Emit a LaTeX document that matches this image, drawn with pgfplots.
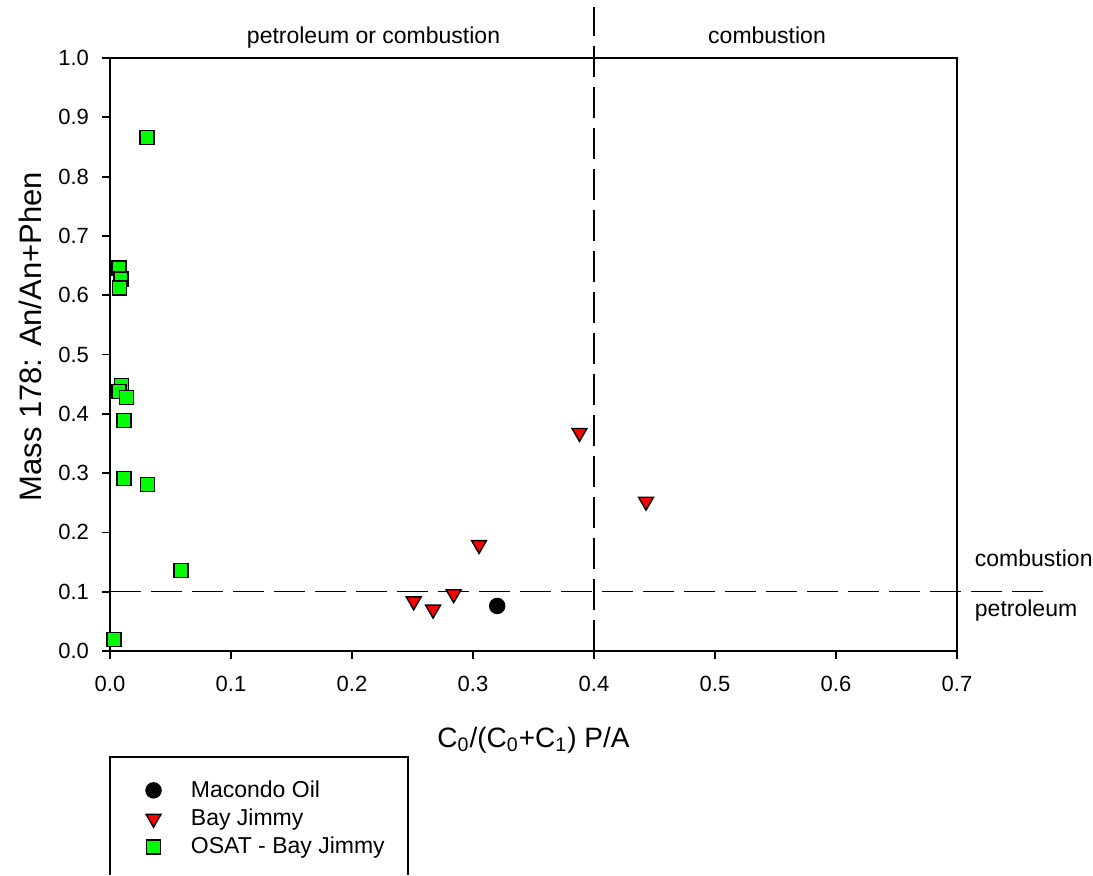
\documentclass[border=0pt]{standalone}
\usepackage{fontspec}
\setmainfont{Liberation Sans}
\usepackage{pgfplots}
\pgfplotsset{compat=1.18}
\definecolor{osatgreen}{RGB}{0,255,0}
\definecolor{bjred}{RGB}{255,0,0}

\begin{document}
\begin{tikzpicture}
\useasboundingbox (-55pt,-112pt) rectangle (491.5pt,325.5pt);
\begin{axis}[
  at={(0pt,0pt)}, anchor=south west,
  width=423.5pt, height=296.5pt, scale only axis,
  xmin=0, xmax=0.7, ymin=0, ymax=1.0,
  xtick={0,0.1,0.2,0.3,0.4,0.5,0.6,0.7},
  ytick={0,0.1,0.2,0.3,0.4,0.5,0.6,0.7,0.8,0.9,1.0},
  /pgf/number format/.cd, fixed, fixed zerofill, precision=1, assume math mode=true,
  /pgfplots/.cd,
  tick align=outside, xtick pos=bottom, ytick pos=left,
  major tick length=4pt,
  axis line style={line width=0.9pt},
  tick style={line width=0.9pt, black},
  ticklabel style={font=\fontsize{11}{13}\selectfont},
  xticklabel style={yshift=-5pt},
  yticklabel style={xshift=-3pt},
  clip=false,
  xlabel={C\textsubscript{0}/(C\textsubscript{0}+C\textsubscript{1}) P/A},
  ylabel={Mass 178: An/An+Phen},
  xlabel style={font=\fontsize{14}{16}\selectfont,
    at={(axis description cs:0.5,0)}, anchor=base, yshift=-48pt},
  ylabel style={font=\fontsize{15.5}{18}\selectfont,
    at={(axis description cs:-0.0945,0.53)}, anchor=center},
  legend cell align=left,
  legend image code/.code={\draw[#1] plot coordinates {(0pt,0pt)}; \path (-4pt,0pt) (16.5pt,0pt);},
  legend style={draw=none, fill=none, inner sep=0pt,
    at={(axis description cs:0.041,-0.211)}, anchor=north west,
    font=\fontsize{11.5}{14}\selectfont, row sep=0.3pt},
]
\addplot[only marks, mark=*, mark size=3.9pt, mark options={draw=black, fill=black}]
  coordinates {(0.320,0.076)};
\addlegendentry{Macondo Oil}
\addplot[only marks, mark=triangle*, mark size=4.3pt,
  mark options={rotate=180, draw=black, fill=bjred, line width=0.7pt}]
  coordinates {(0.251,0.084) (0.267,0.070) (0.284,0.096) (0.305,0.179) (0.388,0.368) (0.443,0.252)};
\addlegendentry{Bay Jimmy}
\addplot[only marks, mark=square*, mark size=3.5pt,
  mark options={draw=black, fill=osatgreen, line width=0.7pt}]
  coordinates {(0.0305,0.866) (0.0076,0.646) (0.0090,0.627) (0.0081,0.612)
               (0.0095,0.448) (0.0074,0.438) (0.0136,0.427) (0.0117,0.389)
               (0.0117,0.291) (0.0310,0.281) (0.0587,0.136) (0.0032,0.019)};
\addlegendentry{OSAT - Bay Jimmy}
\addplot[black, line width=0.7pt, dash pattern=on 15.5pt off 5pt, forget plot]
  coordinates {(0.4,0) (0.4,1.086)};
\addplot[black, line width=0.7pt, dash pattern=on 15.5pt off 5pt, forget plot]
  coordinates {(0,0.1) (0.771,0.1)};
\node[font=\fontsize{11.5}{14}\selectfont, anchor=base] at (axis cs:0.2178,1.0248) {petroleum or combustion};
\node[font=\fontsize{11.5}{14}\selectfont, anchor=base] at (axis cs:0.543,1.0248) {combustion};
\node[font=\fontsize{11.5}{14}\selectfont, anchor=base west] at (axis cs:0.709,0.142) {combustion};
\node[font=\fontsize{11.5}{14}\selectfont, anchor=base west] at (axis cs:0.709,0.058) {petroleum};
\end{axis}
\draw[line width=0.7pt] (0pt,-112pt) -- (0pt,-53pt) -- (149pt,-53pt) -- (149pt,-112pt);
\end{tikzpicture}
\end{document}
